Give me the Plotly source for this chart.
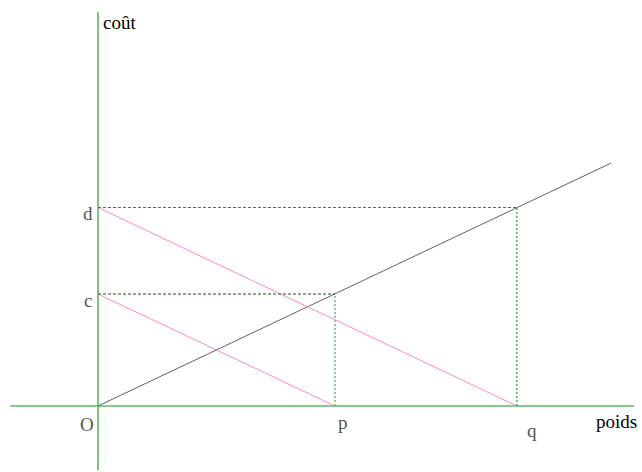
import plotly.graph_objects as go

# values (units: one unit = 59.25 px on the original)
p_val = 4.0
q_val = 7.07
c_val = 1.89
d_val = 3.35
cost_line_x = [0.0, 8.66]
cost_line_y = [0.0, 4.10]
axis_x_extent = [-1.485, 9.05]
axis_y_extent = [-1.08, 6.65]
point_labels = ["O", "p", "q", "c", "d"]
axis_titles = ["poids", "coût"]

W, H = 642, 472
fig = go.Figure()

AX = "rgb(95,185,95)"
DK = "rgb(0,170,0)"

def seg(x, y, color, width=1, dash="solid"):
    fig.add_trace(go.Scatter(x=x, y=y, mode="lines",
                             line=dict(color=color, width=width, dash=dash),
                             hoverinfo="skip", showlegend=False))

# axes
seg(axis_x_extent, [0, 0], AX, 1.6)
seg([0, 0], axis_y_extent, AX, 1.6)
# cost line
seg(cost_line_x, cost_line_y, "rgb(80,80,80)", 0.9)
# pink lines
seg([0, q_val], [d_val, 0], "rgb(255,120,200)", 0.9)
seg([0, p_val], [c_val, 0], "rgb(255,120,200)", 0.9)
# guides
seg([0, q_val], [d_val, d_val], DK, 1.1, "3px,2px")
seg([q_val, q_val], [0, d_val], DK, 1.1, "2px,2px")
seg([0, p_val], [c_val, c_val], "rgb(20,90,20)", 1, "3px,2px")
seg([p_val, p_val], [0, c_val], "rgb(110,195,110)", 1.6, "2px,2px")

FONT = "Liberation Serif"
ann = []
def lab(x, y, t, xs, ys, color="rgb(85,85,85)", size=19, xanchor="center"):
    ann.append(dict(x=x, y=y, text=t, showarrow=False, xref="x", yref="y",
                    xshift=xs, yshift=ys, xanchor=xanchor,
                    font=dict(family=FONT, size=size, color=color)))

lab(0, 0, point_labels[0], -11, -18)
lab(p_val, 0, point_labels[1], 8, -16)
lab(q_val, 0, point_labels[2], 15, -24)
lab(0, c_val, point_labels[3], -10, -6)
lab(0, d_val, point_labels[4], -10, -6)
lab(axis_x_extent[1], 0, axis_titles[0], -18, -15, "black", 19)
lab(0, axis_y_extent[1], axis_titles[1], 3, -11, "black", 19, "left")

unit = 59.25
fig.update_layout(
    width=W, height=H, margin=dict(l=0, r=0, t=0, b=0),
    paper_bgcolor="white", plot_bgcolor="white",
    xaxis=dict(range=[-98 / unit, (W - 98) / unit], visible=False, fixedrange=True),
    yaxis=dict(range=[-(H - 406) / unit, 406 / unit], visible=False, fixedrange=True),
    annotations=ann, showlegend=False,
)
fig.write_html("out.html", config={"displayModeBar": False},
               post_script="document.body.style.margin='0';document.body.style.overflow='hidden';")
